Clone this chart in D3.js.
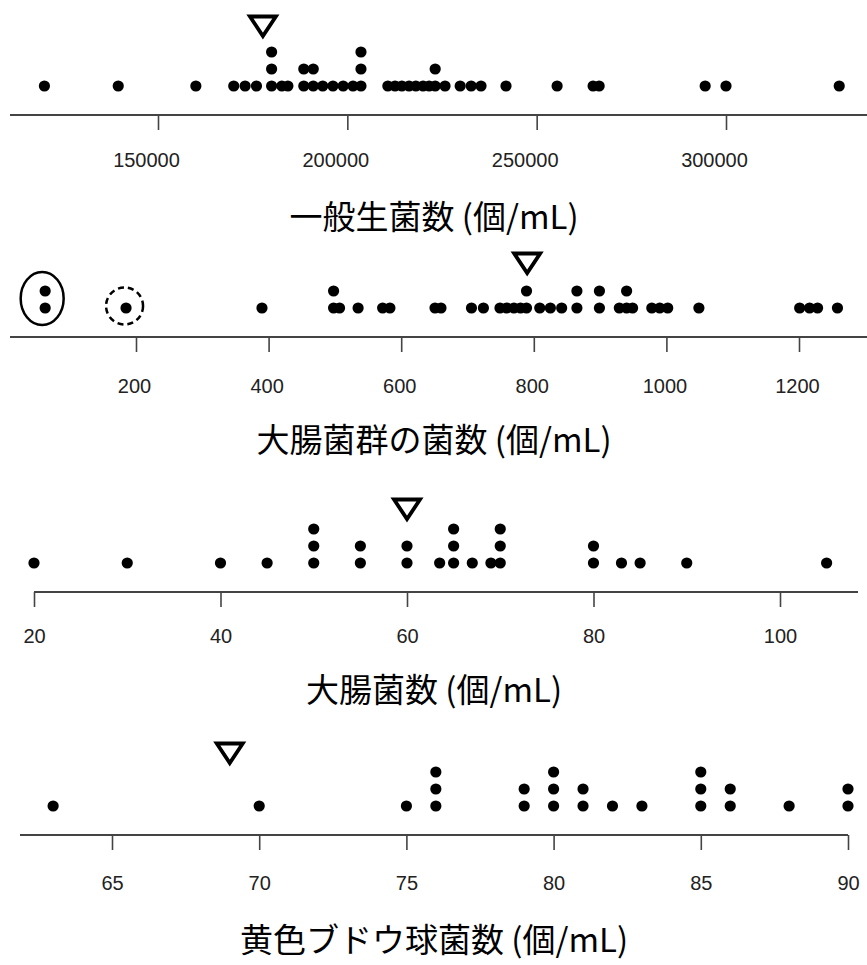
<!DOCTYPE html>
<html>
<head>
<meta charset="utf-8">
<script src="https://cdn.jsdelivr.net/npm/d3@7"></script>
<style>
  html, body { margin: 0; padding: 0; background: #fff; }
  svg { display: block; }
</style>
</head>
<body>
<div id="chart"></div>
<script>
// ---------- DATA ----------
const titles = ["一般生菌数 (個/mL)", "大腸菌群の菌数 (個/mL)", "大腸菌数 (個/mL)", "黄色ブドウ球菌数 (個/mL)"];

const generalBacteria = [120000, 139500, 160000, 170000, 173000, 176000, 180000, 180000, 180000,
  182700, 184300, 188500, 188500, 191000, 191000, 193500, 196200, 198900, 201500,
  203600, 203600, 203600, 210700, 212600, 214400, 216300, 218100, 220000, 221600,
  223200, 223200, 225800, 229800, 232700, 235300, 241900, 255400, 264900, 266500,
  294500, 300000, 329900];
const coliforms = [63, 63, 185, 390, 498, 498, 507, 535, 572, 583, 651, 660, 706, 724, 749, 759,
  770, 780, 789, 789, 809, 825, 842, 865, 865, 899, 899, 929, 940, 940, 949, 978, 990,
  1002, 1049, 1201, 1216, 1228, 1258];
const ecoli = [20, 30, 40, 45, 50, 50, 50, 55, 55, 60, 60, 63.5, 65, 65, 65, 67, 69, 70, 70, 70,
  80, 80, 83, 85, 90, 105];
const staph = [63, 70, 75, 76, 76, 76, 79, 79, 80, 80, 80, 81, 81, 82, 83, 85, 85, 85, 86, 86, 88, 90, 90];

const markers = [177700, 790, 60, 69];          // triangle marker positions
const ticks1 = [150000, 200000, 250000, 300000];
const ticks2 = [200, 400, 600, 800, 1000, 1200];
const ticks3 = [20, 40, 60, 80, 100];
const ticks4 = [65, 70, 75, 80, 85, 90];
const circledSolid = 63;    // solid ellipse around this stack (panel 2)
const circledDashed = 185;  // dashed circle around this dot (panel 2)

// ---------- LAYOUT ----------
const W = 867, H = 965;
const svg = d3.select("#chart").append("svg").attr("width", W).attr("height", H);

const panels = [
  { values: generalBacteria, ticks: ticks1, dom: [150000, 300000], rng: [158, 726], line: [10, 867],
    axisY: 115, labelDy: 45, labelDx: -12, titleY: 217, triTop: 15, marker: markers[0], title: titles[0] },
  { values: coliforms, ticks: ticks2, dom: [200, 1200], rng: [136, 799], line: [10, 867],
    axisY: 337, labelDy: 49, labelDx: -2, titleY: 440, triTop: 252, marker: markers[1], title: titles[1] },
  { values: ecoli, ticks: ticks3, dom: [20, 100], rng: [34, 780], line: [34, 858],
    axisY: 592, labelDy: 44, labelDx: 0, titleY: 690, triTop: 498, marker: markers[2], title: titles[2] },
  { values: staph, ticks: ticks4, dom: [65, 90], rng: [112, 848], line: [20, 848],
    axisY: 835, labelDy: 48, labelDx: 0, titleY: 940, triTop: 742, marker: markers[3], title: titles[3] }
];

const dotR = 5.6, stackGap = 17, baseOffset = 29;

panels.forEach((p, i) => {
  const x = d3.scaleLinear().domain(p.dom).range(p.rng);
  const g = svg.append("g");

  // axis line
  g.append("line")
    .attr("x1", p.line[0]).attr("x2", p.line[1])
    .attr("y1", p.axisY).attr("y2", p.axisY)
    .attr("stroke", "#444").attr("stroke-width", 2);

  // ticks via d3 axis
  const axis = d3.axisBottom(x).tickValues(p.ticks).tickSize(15).tickPadding(0)
    .tickFormat(d3.format("d"));
  const ag = g.append("g").attr("transform", `translate(0,${p.axisY})`).call(axis);
  ag.select(".domain").remove();
  ag.selectAll(".tick line").attr("stroke", "#444").attr("stroke-width", 1.6);
  ag.selectAll(".tick text")
    .attr("x", p.labelDx)
    .attr("y", p.labelDy).attr("dy", "0.36em")
    .attr("fill", "#222")
    .style("font-family", "'Liberation Sans', Arial, sans-serif")
    .style("font-size", "20px");

  // stacked dots
  const baseY = p.axisY - baseOffset;
  const counts = new Map();
  const pts = p.values.map(v => {
    const k = counts.get(v) || 0;
    counts.set(v, k + 1);
    return { v, k };
  });
  g.selectAll("circle.dot").data(pts).join("circle")
    .attr("class", "dot")
    .attr("cx", d => x(d.v))
    .attr("cy", d => baseY - d.k * stackGap)
    .attr("r", dotR)
    .attr("fill", "#000");

  // triangle marker
  const tx = x(p.marker), tw = 13, th = 21;
  g.append("path")
    .attr("d", `M${tx - tw},${p.triTop + 1.5} L${tx + tw},${p.triTop + 1.5} L${tx},${p.triTop + th} Z`)
    .attr("fill", "none").attr("stroke", "#000").attr("stroke-width", 3.8)
    .attr("stroke-linejoin", "miter");

  // title
  g.append("text")
    .attr("x", 434).attr("y", p.titleY).attr("dy", "0.35em")
    .attr("text-anchor", "middle")
    .attr("fill", "#000")
    .style("font-family", "'Noto Sans CJK JP', 'Noto Sans', sans-serif")
    .style("font-size", "33px")
    .text(p.title);

  if (i === 1) {
    g.append("ellipse")
      .attr("cx", x(circledSolid) - 3).attr("cy", baseY - stackGap / 2 - 1)
      .attr("rx", 21.5).attr("ry", 26.5)
      .attr("fill", "none").attr("stroke", "#000").attr("stroke-width", 2.5);
    g.append("circle")
      .attr("cx", x(circledDashed) - 1.5).attr("cy", baseY - 2)
      .attr("r", 18.5)
      .attr("fill", "none").attr("stroke", "#000").attr("stroke-width", 2.5)
      .attr("stroke-dasharray", "6,4");
  }
});
</script>
</body>
</html>
